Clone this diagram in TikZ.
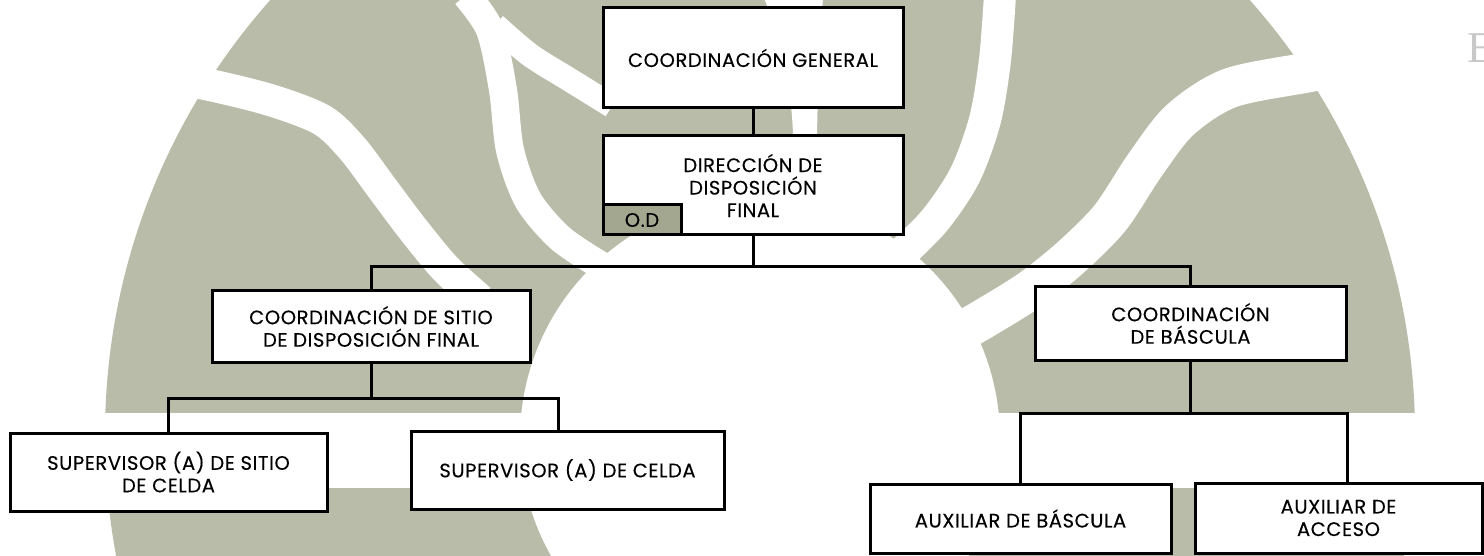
\documentclass[tikz,border=0pt]{standalone}
\usepackage{fontspec}
\setmainfont{Poppins}[LetterSpace=3, FakeBold=0.3]
\newfontfamily\letterfont{Liberation Serif}
\usetikzlibrary{positioning}
\definecolor{bgsage}{HTML}{B9BCA9}
\definecolor{odsage}{HTML}{A3A790}
\definecolor{letgray}{HTML}{C8C8C8}

\begin{document}
\begin{tikzpicture}[x=1pt, y=-1pt,
  orgbox/.style={draw=black, fill=white, line width=3pt, align=center,
    inner sep=0pt, font=\fontsize{19.5}{22.5}\selectfont},
  link/.style={line width=3pt},
  band/.style={white, line width=#1}]
  \useasboundingbox (0,0) rectangle (1484,556);

  % background
  \begin{scope}
    \clip (0,0) rectangle (1484,556);
    \fill[bgsage, even odd rule] (760,435) circle[radius=655pt]
      (760,438) circle[radius=240pt];
    \fill[white] (0,413) rectangle (1484,488);
    \draw[band=32pt] plot[smooth] coordinates
      {(150,75)(205,84)(270,100)(322,120)(352,148)(382,188)(412,228)(445,268)(480,300)};
    \draw[band=28pt] plot[smooth] coordinates
      {(466,-5)(490,30)(503,90)(510,150)(528,200)(560,238)(600,265)};
    \draw[band=24pt] plot[smooth] coordinates
      {(495,25)(530,55)(570,80)(612,106)};
    \fill[white] (764,-2) .. controls (785,50) and (792,100) .. (793,135)
      -- (790,245) -- (814,245) -- (817,135)
      .. controls (818,80) and (820,40) .. (823,-2) -- cycle;
    \draw[band=32pt] plot[smooth] coordinates
      {(1000,-5)(995,60)(985,120)(965,175)(935,220)(900,255)(870,280)};
    \draw[band=40pt] plot[smooth] coordinates
      {(1360,62)(1310,72)(1230,88)(1180,120)(1145,165)(1110,218)(1070,258)(1030,290)(985,318)(950,338)};
  \end{scope}

  % boxes
  \node[orgbox, minimum width=300pt, minimum height=100pt] (gen) at (753,58)
    {COORDINACIÓN GENERAL};
  \node[orgbox, minimum width=300pt, minimum height=99pt] (dir) at (753,185.5)
    {DIRECCIÓN DE\\DISPOSICIÓN\\FINAL};
  \node[orgbox, fill=odsage, minimum width=78pt, minimum height=30pt] (od) at (642,220)
    {O.D};
  \node[orgbox, minimum width=318pt, minimum height=71pt] (sitio) at (371,326.5)
    {COORDINACIÓN DE SITIO\\DE DISPOSICIÓN FINAL};
  \node[orgbox, minimum width=311pt, minimum height=73pt] (bascula) at (1190.5,323.5)
    {COORDINACIÓN\\DE BÁSCULA};
  \node[orgbox, minimum width=317pt, minimum height=78pt] (supsitio) at (168.5,472)
    {SUPERVISOR (A) DE SITIO\\DE CELDA};
  \node[orgbox, minimum width=313pt, minimum height=78pt] (supcelda) at (567.5,470)
    {SUPERVISOR (A) DE CELDA};
  \node[orgbox, minimum width=301pt, minimum height=69pt] (auxbas) at (1020.5,518.5)
    {AUXILIAR DE BÁSCULA};
  \node[orgbox, minimum width=287pt, minimum height=70pt] (auxacc) at (1338.5,518)
    {AUXILIAR DE\\ACCESO};

  % connectors
  \coordinate (busA) at (753,267);
  \coordinate (busB) at (371,398);
  \coordinate (busC) at (1190.5,413);
  \draw[link] (gen) -- (dir);
  \draw[link] (dir) -- (busA);
  \draw[link] (sitio.north) |- (busA) -| (bascula.north);
  \draw[link] (sitio) -- (busB);
  \draw[link] (supsitio.north) |- (busB) -| ([xshift=-9.5pt]supcelda.north);
  \draw[link] (bascula) -- (busC);
  \draw[link] (auxbas.north) |- (busC) -| ([xshift=8.5pt]auxacc.north);

  \node[font=\letterfont\fontsize{44}{44}\selectfont, text=letgray, anchor=base west,
    inner sep=0pt] (cutletter) at (1467,63) {E};
\end{tikzpicture}
\end{document}
